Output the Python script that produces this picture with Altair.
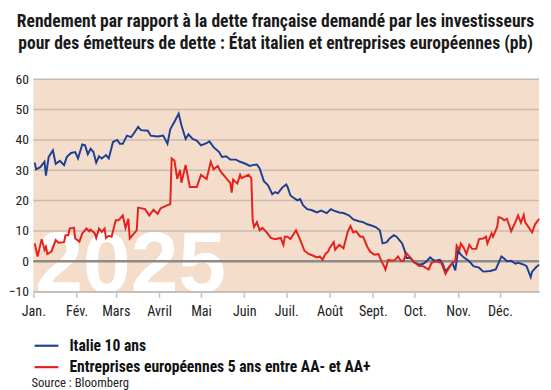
import altair as alt
import pandas as pd

# ---- data (day offset from 1 Jan 2025, spread in basis points) ----
it_days = [1, 2, 5, 8, 9, 11, 14, 16, 19, 22, 24, 27, 30, 32, 35, 37, 39, 41, 43, 45, 47, 49, 52, 54, 57, 60,
           62, 64, 67, 70, 72, 75, 77, 82, 84, 89, 93, 96, 98, 101, 104, 106, 109, 111, 114, 117, 120, 124, 126,
           129, 133, 135, 138, 141, 145, 148, 151, 155, 157, 160, 162, 165, 168, 171, 173, 175, 178, 181, 182,
           184, 186, 189, 191, 193, 196, 199, 203, 206, 210, 213, 215, 219, 222, 226, 229, 233, 236, 239, 242,
           245, 248, 250, 253, 255, 258, 260, 262, 264, 266, 267, 270, 272, 276, 279, 281, 284, 286, 288, 291,
           293, 295, 298, 300, 302, 304, 306, 308, 312, 315, 319, 322, 327, 331, 335, 337, 339, 342, 345, 347,
           351, 353, 356, 357, 360, 362]
it_vals = [32.5, 30.3, 31.0, 32.8, 28.2, 34.4, 36.6, 32.1, 33.1, 31.7, 34.4, 35.7, 36.0, 33.9, 38.5, 38.2, 35.3,
           37.1, 36.0, 32.5, 34.6, 33.9, 35.0, 33.9, 39.3, 40.0, 38.7, 38.7, 41.4, 40.9, 42.2, 44.3, 43.2, 43.0,
           41.4, 41.1, 41.4, 38.7, 43.5, 46.0, 48.6, 44.8, 40.3, 41.8, 40.3, 39.8, 38.2, 38.9, 39.5, 37.6, 36.0,
           34.4, 34.6, 33.5, 33.5, 32.8, 32.3, 31.4, 31.7, 31.9, 30.6, 26.4, 25.0, 22.1, 22.8, 22.4, 24.2, 25.3,
           24.5, 21.7, 21.0, 20.1, 20.5, 18.5, 17.2, 16.9, 16.1, 16.7, 15.9, 17.2, 16.7, 16.1, 15.9, 15.1, 13.8,
           13.2, 12.9, 12.2, 11.8, 11.3, 10.2, 5.9, 6.3, 7.5, 8.6, 8.1, 7.0, 5.9, 3.2, 1.1, 1.1, -0.2, -1.1, -0.8,
           -0.2, 1.3, 0.5, 0.2, 0.5, -0.8, -3.4, -1.6, -0.5, -3.0, 3.5, 2.2, 1.3, 0.0, -1.6, -2.1, -3.4, -3.2,
           -2.7, 1.6, 0.9, 0.0, 0.2, -0.8, -0.5, -1.1, -1.6, -5.2, -3.4, -1.9, -1.1]

eu_days = [1, 3, 6, 8, 9, 10, 13, 16, 18, 22, 23, 25, 26, 29, 30, 33, 35, 38, 40, 41, 44, 45, 47, 49, 51, 52,
           54, 56, 59, 61, 64, 66, 68, 69, 71, 74, 75, 80, 83, 86, 89, 91, 96, 98, 99, 101, 103, 105, 106, 109,
           112, 117, 120, 124, 127, 129, 132, 134, 138, 141, 142, 143, 146, 148, 149, 154, 156, 157, 158, 160,
           162, 164, 167, 170, 173, 177, 179, 180, 182, 184, 188, 190, 192, 194, 197, 200, 203, 205, 207, 209,
           211, 212, 215, 216, 219, 222, 225, 227, 229, 231, 234, 236, 239, 241, 244, 247, 249, 251, 252, 254,
           257, 259, 261, 263, 265, 267, 270, 272, 276, 279, 283, 285, 288, 292, 295, 298, 300, 302, 303, 305,
           306, 308, 310, 312, 314, 317, 319, 322, 324, 325, 328, 329, 332, 333, 335, 337, 339, 342, 345, 347,
           349, 351, 352, 357, 359, 362]
eu_vals = [5.9, 1.6, 7.3, 3.8, 4.8, 2.4, 3.2, 7.0, 6.1, 6.3, 8.6, 8.6, 10.8, 11.1, 7.5, 6.5, 9.2, 10.8, 9.9,
           10.4, 9.2, 7.7, 10.8, 9.7, 10.8, 7.7, 8.4, 8.1, 13.5, 13.5, 15.1, 11.0, 14.0, 7.5, 8.6, 10.2, 17.7,
           17.2, 15.1, 17.0, 15.6, 17.4, 18.5, 18.8, 33.9, 33.2, 27.2, 30.1, 25.9, 31.7, 24.5, 24.5, 28.5, 27.1,
           32.8, 30.3, 31.4, 29.6, 27.4, 25.8, 22.6, 26.9, 25.6, 28.5, 27.4, 28.5, 27.4, 13.5, 11.3, 12.9, 10.2,
           11.0, 9.5, 7.7, 7.3, 7.7, 5.4, 8.1, 8.1, 7.3, 10.2, 8.1, 5.9, 3.5, 2.4, 1.9, 1.3, 1.6, 0.5, 2.4, 3.2,
           4.3, 6.3, 3.8, 5.4, 4.3, 9.7, 11.6, 9.5, 9.9, 8.1, 8.1, 4.8, 3.2, 2.2, 2.4, 0.2, -1.6, -2.7, 0.5, 0.2,
           0.5, 1.6, 0.2, 0.2, 2.7, 1.1, 0.0, -1.6, -1.6, -2.7, -0.5, 0.0, -0.5, -4.1, -1.9, -0.5, 0.0, 5.2, 3.8,
           5.9, 4.5, 2.4, 5.4, 4.1, 4.1, 7.3, 7.5, 8.1, 5.9, 9.2, 8.1, 11.3, 14.5, 14.3, 13.5, 14.0, 9.9, 12.9,
           15.1, 12.7, 15.3, 12.9, 9.5, 12.1, 14.0]

series_names = ["Italie 10 ans", "Entreprises européennes 5 ans entre AA- et AA+"]
series_colors = ["#1d3f93", "#e4211c"]

month_days = [0, 31, 59, 90, 120, 151, 181, 212, 243, 273, 304, 334]
month_labels = ["Jan.", "Fév.", "Mars", "Avril", "Mai", "Juin", "Juil.", "Août", "Sept.", "Oct.", "Nov.", "Déc."]
y_ticks = [-10, 0, 10, 20, 30, 40, 50, 60]

title_lines = ["Rendement par rapport à la dette française demandé par les investisseurs",
               "pour des émetteurs de dette : État italien et entreprises européennes (pb)"]
watermark = "2025"
source = "Source : Bloomberg"

# ---- build tables ----
df = pd.concat([
    pd.DataFrame({"day": it_days, "val": it_vals, "serie": series_names[0]}),
    pd.DataFrame({"day": eu_days, "val": eu_vals, "serie": series_names[1]}),
], ignore_index=True)
grid_df = pd.DataFrame({"v": y_ticks})

FONT = "Liberation Sans Narrow, Roboto Condensed, DejaVu Sans Condensed, Liberation Sans, sans-serif"
W, H = 519, 218

label_expr = ("[" + ",".join(f"'{m}'" for m in month_labels) + "][indexof(["
              + ",".join(str(d) for d in month_days) + "], datum.value)]")

x_scale = alt.Scale(domain=[0, 362], nice=False, zero=False)
y_scale = alt.Scale(domain=[-10, 60], nice=False, zero=False)

y_axis = alt.Axis(values=y_ticks, grid=False, domain=False, ticks=False, labelFont=FONT,
                  labelFontSize=14, labelColor="#222222", labelPadding=5,
                  labelOverlap=False, labelFlush=False, title=None)

wm = alt.Chart(pd.DataFrame({"t": [watermark]})).mark_text(
    text=watermark, font="Liberation Sans, Arial, sans-serif", fontWeight="bold", fontSize=88,
    color="white", align="left", baseline="alphabetic", clip=True
).encode(x=alt.value(2), y=alt.value(218))

grid = alt.Chart(grid_df).mark_rule().encode(
    y=alt.Y("v:Q", scale=y_scale, axis=y_axis, title=None),
    color=alt.condition("datum.v == 0", alt.value("#8c8b8a"), alt.value("#c9bbb0")),
    strokeWidth=alt.condition("datum.v == 0", alt.value(2.5), alt.value(1.5)),
)

lines = alt.Chart(df).mark_line(strokeWidth=2).encode(
    x=alt.X("day:Q", scale=x_scale, title=None,
            axis=alt.Axis(values=month_days, labelExpr=label_expr, grid=False, domain=True,
                          domainColor="#c4c4c4", domainWidth=2, ticks=True, tickColor="#c4c4c4",
                          tickWidth=1.5, tickSize=6, labelFont=FONT, labelFontSize=14.5,
                          labelColor="#222222", labelPadding=8, labelFlush=False,
                          labelOverlap=False)),
    y=alt.Y("val:Q", scale=y_scale, title=None, axis=y_axis),
    color=alt.Color("serie:N", scale=alt.Scale(domain=series_names, range=series_colors),
                    legend=alt.Legend(orient="none", legendX=0, legendY=260, title=None,
                                      symbolType="stroke", symbolSize=600, symbolStrokeWidth=2.2,
                                      labelFont=FONT, labelFontSize=16, labelFontWeight="bold",
                                      labelColor="#111111", labelLimit=600, rowPadding=-3,
                                      labelOffset=10, direction="vertical")),
    order=alt.Order("day:Q"),
)

src = alt.Chart(pd.DataFrame({"t": [source]})).mark_text(
    text=source, font=FONT, fontSize=13, color="#222222", align="left", baseline="middle"
).encode(x=alt.value(-2), y=alt.value(312))

chart = alt.layer(wm, grid, lines, src).properties(
    width=W, height=H,
    padding={"left": 0, "top": 0, "right": 0, "bottom": 0},
    title=alt.TitleParams(text=title_lines, font=FONT, fontSize=18, fontWeight="bold",
                          color="#1a1a1a", anchor="middle", lineHeight=23, offset=20, frame="bounds"),
).configure_view(fill="#f4ddcb", stroke=None)

chart.save("out.html", embed_options={"renderer": "svg", "actions": False})
